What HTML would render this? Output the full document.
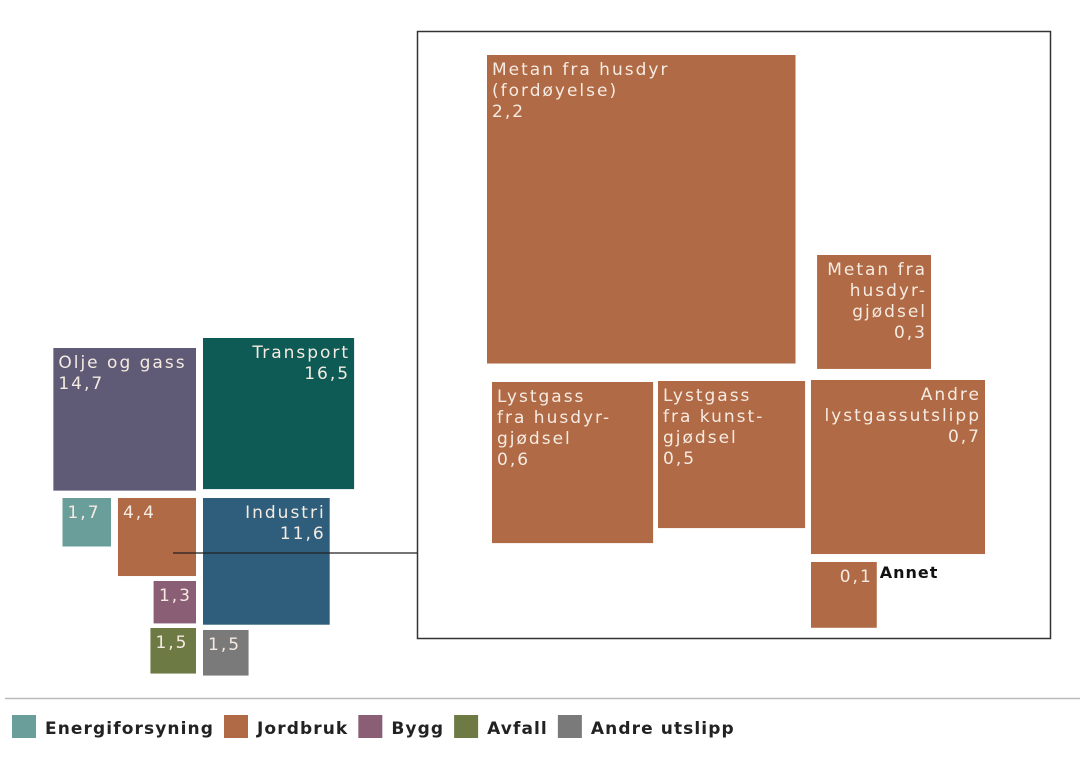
<!DOCTYPE html>
<html><head><meta charset="utf-8"><style>
html,body{margin:0;padding:0;background:#fff;width:1084px;height:758px;overflow:hidden}
svg{display:block}
text{font-family:"DejaVu Sans","Liberation Sans",sans-serif;font-size:17px;letter-spacing:2px}
</style></head><body>
<svg id="chart" width="1084" height="758"></svg>
<script>
// Data (mill. tonn CO2-ekv.)
const mainLabels = ["Olje og gass","Transport","Energiforsyning","Jordbruk","Industri","Bygg","Avfall","Andre utslipp"];
const mainValues = [14.7, 16.5, 1.7, 4.4, 11.6, 1.3, 1.5, 1.5];
const mainText = [["Olje og gass","14,7"],["Transport","16,5"],["1,7"],["4,4"],["Industri","11,6"],["1,3"],["1,5"],["1,5"]];
const detailLabels = ["Metan fra husdyr (fordøyelse)","Metan fra husdyrgjødsel","Lystgass fra husdyrgjødsel","Lystgass fra kunstgjødsel","Andre lystgassutslipp","Annet"];
const detailValues = [2.2, 0.3, 0.6, 0.5, 0.7, 0.1];
const detailText = [["Metan fra husdyr","(fordøyelse)","2,2"],["Metan fra","husdyr-","gjødsel","0,3"],["Lystgass","fra husdyr-","gjødsel","0,6"],["Lystgass","fra kunst-","gjødsel","0,5"],["Andre","lystgassutslipp","0,7"],["0,1"]];
const legendLabels = ["Energiforsyning","Jordbruk","Bygg","Avfall","Andre utslipp"];

// layout (not data): anchor corner, colours, alignment
const mainColors = ["#5f5a75","#0e5a55","#6a9e9a","#b06a45","#2e5e7c","#8a5e75","#6e7a44","#7a7a7a"];
const mainAnchor = [[196,348,"r"],[203,338,"l"],[111,498,"r"],[196,498,"r"],[203,498,"l"],[196,581,"r"],[196,628,"r"],[203,630,"l"]];
const mainAlign = ["start","end","start","start","end","end","start","start"];
const detailAnchor = [[487,55,"l"],[931,255,"r"],[492,382,"l"],[658,381,"l"],[985,380,"r"],[811,562,"l"]];
const detailAlign = ["start","end","start","start","end","end"];
const legendColors = ["#6a9e9a","#b06a45","#8a5e75","#6e7a44","#7a7a7a"];
const mainScale = 37.2, detailScale = 208;
const sideMain = v => mainScale*Math.sqrt(v);
const sideDetail = v => detailScale*Math.sqrt(v);

const svg = document.getElementById('chart');
const NS = "http://www.w3.org/2000/svg";
function mk(tag, attrs, parent){const e=document.createElementNS(NS,tag);for(const k in attrs)e.setAttribute(k,attrs[k]);(parent||svg).appendChild(e);return e;}

function drawRect(x0,y0,side,mode,color,lines,align,name){
  const x = mode==="r" ? x0-side : x0;
  const g = mk('g',{});
  
  
  const r = mk('rect',{x:x,y:y0,width:side,height:side,fill:color},g);
  
  
  lines.forEach((s,i)=>{
    const t = mk('text',{x: align==="end"? x+side-4 : x+5, y:y0+20+i*21,'text-anchor':align,fill:"#f6ebe2"},g);
    t.textContent = s;
    
    
  });
}

// detail frame
const frame = mk('rect',{x:417.5,y:31.5,width:633,height:607,fill:"none",stroke:"#333",'stroke-width':1.5});



mainValues.forEach((v,i)=>{
  drawRect(mainAnchor[i][0],mainAnchor[i][1],sideMain(v),mainAnchor[i][2],mainColors[i],mainText[i],mainAlign[i],'main-'+mainLabels[i].toLowerCase().replace(/\s+/g,'-'));
});
detailValues.forEach((v,i)=>{
  drawRect(detailAnchor[i][0],detailAnchor[i][1],sideDetail(v),detailAnchor[i][2],"#b06a45",detailText[i],detailAlign[i],'detail-'+(i+1));
});
const annetX = detailAnchor[5][0] + sideDetail(detailValues[5]) + 3;
const annet = mk('text',{x:annetX,y:578,fill:"#111",'font-weight':'bold',style:'letter-spacing:1px;font-size:16px'});
annet.textContent = "Annet";



const conn = mk('line',{x1:173,y1:553,x2:417,y2:553,stroke:"#222",'stroke-width':1.2});



const sep = mk('line',{x1:5,y1:698.5,x2:1080,y2:698.5,stroke:"#bbb",'stroke-width':1.5});



let lx = 12;
legendLabels.forEach((l,i)=>{
  const g = mk('g',{});
  
  
  mk('rect',{x:lx,y:715,width:24,height:23,fill:legendColors[i]},g);
  const t = mk('text',{x:lx+33,y:734,fill:"#222",'font-weight':'bold',style:'font-size:17px;letter-spacing:1.1px'},g);
  t.textContent = l;
  lx += 33 + t.getComputedTextLength() + 10;
});
</script>
</body></html>
